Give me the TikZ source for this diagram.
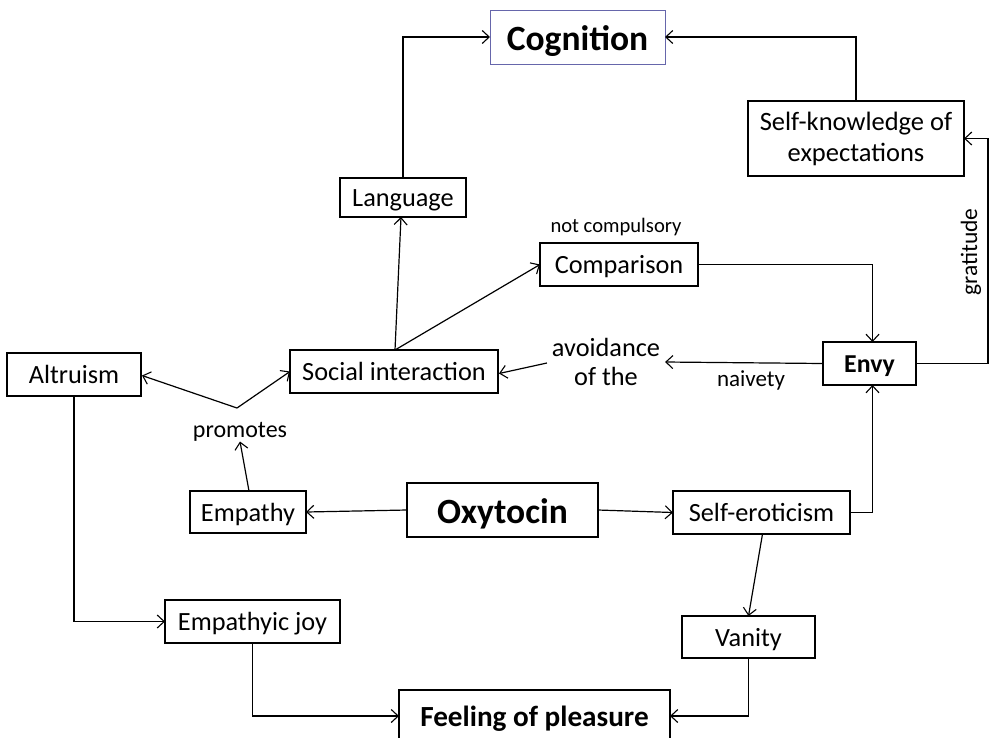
\documentclass[tikz,border=0pt]{standalone}
\usepackage{fontspec}
\setmainfont{Carlito}
\usetikzlibrary{arrows.meta,calc}
\begin{document}
\begin{tikzpicture}[x=1pt,y=-1pt,
  every node/.style={inner sep=0pt, outer sep=0pt},
  box/.style={draw, line width=1.3pt, minimum height=43pt, align=center, font=\fontsize{26.3}{31}\selectfont},
  oneline/.style={text height=19pt, text depth=1pt},
  bigbox/.style={draw, line width=1.3pt, minimum height=54pt, text height=27pt, text depth=1pt, font=\fontsize{35.5}{40}\selectfont\bfseries},
  lbl/.style={font=\fontsize{26.3}{29}\selectfont, align=center},
  conn/.style={line width=1.2pt, -{Straight Barb[length=7pt,width=13pt,line width=1.1pt]}},
  plain/.style={line width=1.2pt}]
\useasboundingbox (0,0) rectangle (990,737);

% boxes
\node[bigbox, draw=blue!45!black!60!white, line width=1pt, minimum width=175pt] (cog) at (577.5,37) {Cognition};
\node[box, minimum width=216pt, minimum height=75pt, font=\fontsize{26.5}{31}\selectfont] (self) at (856,138.5) {Self-knowledge of\\expectations};
\node[box, oneline, minimum width=126pt, minimum height=39pt] (lang) at (403,197.5) {Language};
\node[box, oneline, minimum width=158pt] (comp) at (619,264.5) {Comparison};
\node[box, oneline, minimum width=208pt] (soc) at (394,371.5) {Social interaction};
\node[box, oneline, minimum width=93pt, font=\fontsize{25.8}{30}\selectfont\bfseries] (envy) at (869.5,363.5) {Envy};
\node[box, oneline, minimum width=134pt] (alt) at (74,374.5) {Altruism};
\node[box, oneline, minimum width=116pt, minimum height=42pt] (emp) at (248,512) {Empathy};
\node[bigbox, minimum width=191pt] (oxy) at (502.5,510) {Oxytocin};
\node[box, oneline, minimum width=177pt] (sero) at (761.5,512.5) {Self-eroticism};
\node[box, oneline, minimum width=175pt] (joy) at (252.5,621.5) {Empathyic joy};
\node[box, oneline, minimum width=133pt, minimum height=42pt] (van) at (748.5,637) {Vanity};
\node[box, minimum width=271pt, minimum height=52pt, text height=22pt, text depth=1pt, font=\fontsize{29.2}{34}\selectfont\bfseries] (feel) at (534.5,716) {Feeling of pleasure};

% free labels
\node[font=\fontsize{20.6}{24}\selectfont] (nc) at (616,227) {not compulsory};
\node[lbl, inner xsep=5pt] (avoid) at (606,362) {avoidance\\of the};
\node[font=\fontsize{23}{27}\selectfont] (naiv) at (751,380) {naivety};
\node[font=\fontsize{24}{28}\selectfont] (prom) at (240,432) {promotes};
\node[font=\fontsize{23.5}{27}\selectfont, rotate=90] (grat) at (971,252) {gratitude};

% helper points
\coordinate (socTop) at (395,350);
\coordinate (fork) at (237,408);
\coordinate (rgt) at (988,363.5);

% connectors
\draw[conn] (lang.north) |- (cog.west);
\draw[conn] (self.north) |- (cog.east);
\draw[conn] (socTop) -- ($(lang.south)+(-2,0)$);
\draw[conn] (socTop) -- (comp.west);
\draw[conn] (comp.east) -| ($(envy.north)+(3,0)$);
\draw[conn] (envy.west) -- (avoid.east);
\draw[conn] ($(avoid.west)+(0,1)$) -- ($(soc.east)+(1,2)$);
\draw[plain] (envy.east) -- (rgt);
\draw[conn] (rgt) |- (self.east);
\draw[conn] (fork) -- ($(alt.east)+(1,1)$);
\draw[conn] (fork) -- (soc.west);
\draw[conn] ($(emp.north)+(1,0)$) -- (prom.south);
\draw[conn] (oxy.west) -- (emp.east);
\draw[conn] (oxy.east) -- (sero.west);
\draw[conn] (sero.east) -| ($(envy.south)+(3,0)$);
\draw[conn] ($(sero.south)+(1,0)$) -- (van.north);
\draw[conn] (alt.south) |- (joy.west);
\draw[conn] (joy.south) |- (feel.west);
\draw[conn] (van.south) |- (feel.east);
\end{tikzpicture}
\end{document}
